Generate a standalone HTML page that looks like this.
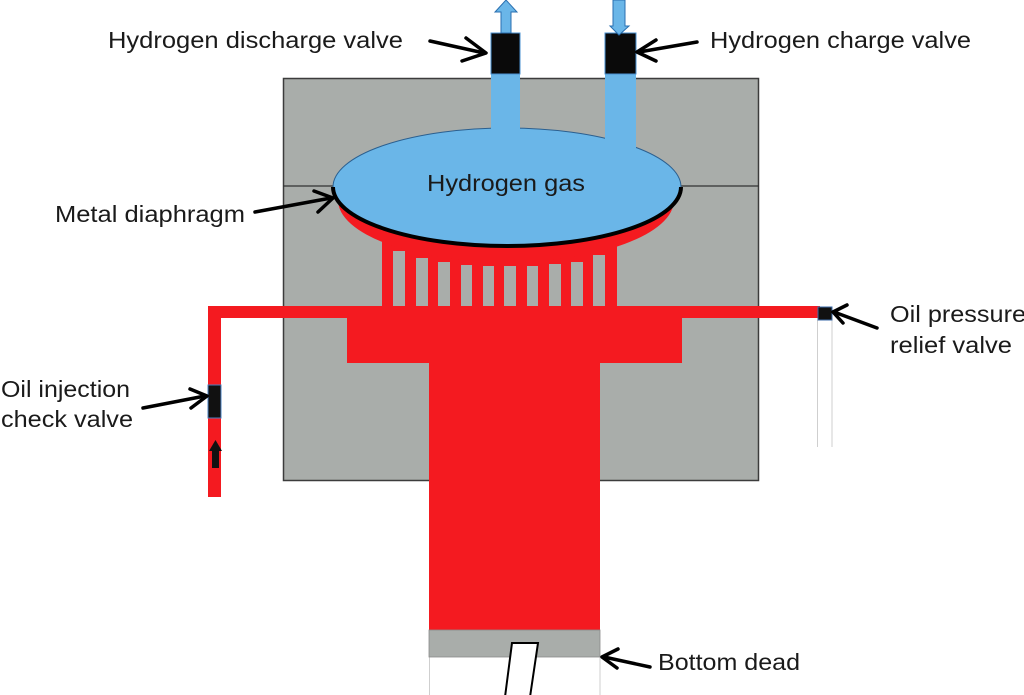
<!DOCTYPE html>
<html>
<head>
<meta charset="utf-8">
<style>
html,body{margin:0;padding:0;background:#fff;}
svg{display:block;}
text{font-family:"Liberation Sans",Arial,sans-serif;font-size:23px;fill:#1a1a1a;}
</style>
</head>
<body>
<svg width="1024" height="695" viewBox="0 0 1024 695" xmlns="http://www.w3.org/2000/svg">
<rect x="0" y="0" width="1024" height="695" fill="#fff"/>

<!-- gray body -->
<rect x="283.5" y="78.5" width="475" height="402" fill="#a9adaa" stroke="#3c3c3c" stroke-width="1.5"/>
<line x1="283" y1="186" x2="759" y2="186" stroke="#333" stroke-width="1.2"/>

<!-- red oil system -->
<g fill="#f41a20">
  <rect x="429" y="360" width="171" height="271"/>
  <rect x="347" y="306" width="335" height="57"/>
  <rect x="208" y="306" width="612" height="12"/>
  <rect x="208" y="306" width="13" height="191"/>
  <rect x="382" y="238" width="235" height="75"/>
  <ellipse cx="506" cy="200" rx="168" ry="62"/>
</g>
<!-- gaps between fins -->
<g fill="#a9adaa">
  <rect x="393" y="251" width="12" height="55"/>
  <rect x="416" y="258" width="12" height="48"/>
  <rect x="438" y="262" width="12" height="44"/>
  <rect x="461" y="265" width="11" height="41"/>
  <rect x="483" y="266" width="11" height="40"/>
  <rect x="504" y="266" width="12" height="40"/>
  <rect x="527" y="266" width="11" height="40"/>
  <rect x="549" y="264" width="12" height="42"/>
  <rect x="571" y="262" width="12" height="44"/>
  <rect x="593" y="255" width="12" height="51"/>
</g>

<!-- hydrogen gas chamber -->
<ellipse cx="507" cy="187" rx="174" ry="59" fill="#6ab6e8" stroke="#2b5f8f" stroke-width="1"/>
<path d="M333 187 A174 59 0 0 0 681 187" fill="none" stroke="#000" stroke-width="4"/>

<!-- blue pipes -->
<rect x="491" y="74" width="29" height="70" fill="#6ab6e8"/>
<rect x="605" y="74" width="31" height="82" fill="#6ab6e8"/>

<!-- top valves -->
<rect x="491" y="33" width="29" height="41" fill="#0a0a0a" stroke="#4a90d0" stroke-width="1"/>
<rect x="605" y="33" width="31" height="41" fill="#0a0a0a" stroke="#4a90d0" stroke-width="1"/>

<!-- flow arrows blue -->
<polygon points="501,33 501,12 495,12 506,0 517,12 511,12 511,33" fill="#6ab6e8" stroke="#2a6fb0" stroke-width="1"/>
<polygon points="613,0 625,0 625,26 629,26 619,35 610,26 613,26" fill="#6ab6e8" stroke="#2a6fb0" stroke-width="1"/>

<!-- right relief valve -->
<line x1="817.5" y1="320" x2="817.5" y2="447" stroke="#cfcfcf" stroke-width="1"/>
<line x1="832" y1="320" x2="832" y2="447" stroke="#cfcfcf" stroke-width="1"/>
<rect x="818" y="307" width="14" height="13" fill="#111" stroke="#3a6aa8" stroke-width="1"/>

<!-- left injection check valve -->
<rect x="208" y="385" width="13" height="33" fill="#111" stroke="#4a80c0" stroke-width="1"/>
<polygon points="212,468 212,451 209,451 215.5,440 222,451 219,451 219,468" fill="#111"/>

<!-- piston -->
<line x1="429.5" y1="657" x2="429.5" y2="695" stroke="#cfcfcf" stroke-width="1"/>
<line x1="600" y1="657" x2="600" y2="695" stroke="#cfcfcf" stroke-width="1"/>
<rect x="429" y="630" width="171" height="27" fill="#a9adaa" stroke="#8a8a8a" stroke-width="0.8"/>
<polygon points="512,643 538,643 530,697 505,697" fill="#fff" stroke="#000" stroke-width="2"/>

<!-- black pointer arrows -->
<g fill="none" stroke="#000" stroke-width="3.5" stroke-linecap="round" stroke-linejoin="round">
  <line x1="430" y1="41" x2="484" y2="53"/>
  <polyline points="466,38 486,53 462,61"/>
  <line x1="697" y1="42" x2="639" y2="52"/>
  <polyline points="656,40 637,52 656,61"/>
  <line x1="255" y1="212" x2="331" y2="198"/>
  <polyline points="314,191 333,198 318,212"/>
  <line x1="143" y1="408" x2="205" y2="396"/>
  <polyline points="190,389 207,396 191,408"/>
  <line x1="877" y1="328" x2="834" y2="312"/>
  <polyline points="847,305 833,312 843,323"/>
  <line x1="650" y1="667" x2="604" y2="657"/>
  <polyline points="618,649 602,657 617,668"/>
</g>

<!-- labels -->
<text x="108" y="48" textLength="295" lengthAdjust="spacingAndGlyphs">Hydrogen discharge valve</text>
<text x="710" y="48" textLength="261" lengthAdjust="spacingAndGlyphs">Hydrogen charge valve</text>
<text x="55" y="222" textLength="190" lengthAdjust="spacingAndGlyphs">Metal diaphragm</text>
<text x="427" y="191" textLength="158" lengthAdjust="spacingAndGlyphs">Hydrogen gas</text>
<text x="1" y="397" textLength="129" lengthAdjust="spacingAndGlyphs">Oil injection</text>
<text x="1" y="427" textLength="132" lengthAdjust="spacingAndGlyphs">check valve</text>
<text x="890" y="322" textLength="136" lengthAdjust="spacingAndGlyphs">Oil pressure</text>
<text x="890" y="353" textLength="122" lengthAdjust="spacingAndGlyphs">relief valve</text>
<text x="658" y="670" textLength="142" lengthAdjust="spacingAndGlyphs">Bottom dead</text>
</svg>
</body>
</html>
